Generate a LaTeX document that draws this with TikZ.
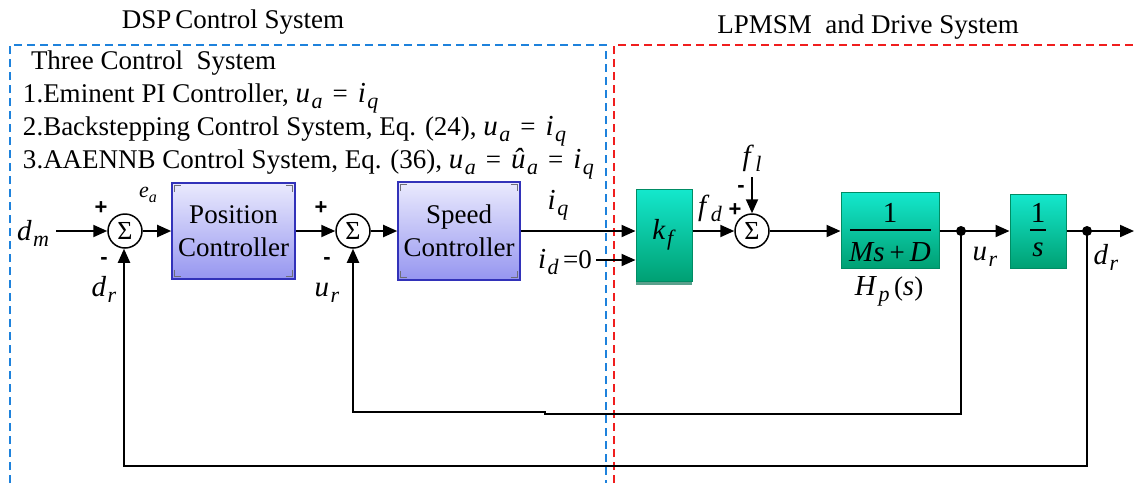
\documentclass[tikz,border=0pt]{standalone}
\usepackage{fontspec}
\setmainfont{Liberation Serif}
\newfontfamily\plusfont{Liberation Sans}
\usetikzlibrary{arrows.meta,calc}
\definecolor{dspblue}{RGB}{30,130,220}
\definecolor{drvred}{RGB}{240,30,30}
\definecolor{lavtop}{RGB}{234,234,253}
\definecolor{lavbot}{RGB}{150,150,240}
\definecolor{lavdraw}{RGB}{50,50,185}
\definecolor{grtop}{RGB}{20,232,205}
\definecolor{grmid}{RGB}{0,200,150}
\definecolor{grbot}{RGB}{0,160,115}
\definecolor{grdraw}{RGB}{0,140,100}
\definecolor{cornergray}{RGB}{110,110,120}
\newcommand\iv[1]{{\fontsize{29}{29}\selectfont\textit{#1}}}
\newcommand\sbs[1]{\kern1.5pt\raisebox{-6pt}{\fontsize{22}{22}\selectfont\textit{#1}}}
\newcommand\eqs{\hspace{10pt}=\hspace{10pt}}
\newcommand\sgn[1]{{\plusfont\bfseries\fontsize{22}{22}\selectfont #1}}
\newcommand\boxcorners[1]{%
  \draw[cornergray,line width=1.3pt] ($(#1.north west)+(3,10)$) -- ++(0,-7) -- ++(7,0);
  \draw[cornergray,line width=1.3pt] ($(#1.north east)+(-10,3)$) -- ++(7,0) -- ++(0,7);
  \draw[cornergray,line width=1.3pt] ($(#1.south west)+(3,-10)$) -- ++(0,7) -- ++(7,0);
  \draw[cornergray,line width=1.3pt] ($(#1.south east)+(-10,-3)$) -- ++(7,0) -- ++(0,-7);
}
\begin{document}
\begin{tikzpicture}[x=1pt,y=-1pt,
  font=\fontsize{27}{31}\selectfont,
  line width=2pt,
  >={Triangle[length=14pt,width=12pt]},
  sumc/.style={circle,draw,line width=1.5pt,minimum size=34pt,inner sep=0pt,fill=white,font=\fontsize{26}{26}\selectfont},
  pbox/.style={rectangle,draw=lavdraw,line width=1.6pt,top color=lavtop,bottom color=lavbot,align=center,inner sep=0pt,font=\fontsize{27}{33}\selectfont},
  gbox/.style={rectangle,draw=grdraw,line width=1pt,top color=grtop,middle color=grmid,bottom color=grbot,inner sep=0pt},
  lbl/.style={inner sep=0pt},
  dspdash/.style={dspblue,line width=1.5pt,dash pattern=on 8pt off 5pt},
  drvdash/.style={drvred,line width=1.5pt,dash pattern=on 8pt off 5pt},
  dotc/.style={circle,fill=black,inner sep=0pt,minimum size=10pt}
]
\useasboundingbox (0,0) rectangle (1134,483);
\fill[white] (0,0) rectangle (1134,483);

% frames
\draw[dspdash] (10,483) -- (10,45) -- (606,45) -- (606,483);
\draw[drvdash] (614,483) -- (614,45) -- (1134,45);

% titles
\node[lbl,anchor=base] (t1) at (233,28) {DSP\kern4pt Control System};
\node[lbl,anchor=base] (t2) at (868,33) {LPMSM\ \ and Drive System};

% list
\node[lbl,anchor=base west] (l0) at (30,69) {Three Control\ \ System};
\node[lbl,anchor=base west] (l1) at (22,102) {1.Eminent PI Controller, \iv{u}\sbs{a}\eqs\iv{i}\sbs{q}};
\node[lbl,anchor=base west] (l2) at (22,135) {2.Backstepping Control System, Eq. (24),\ \iv{u}\sbs{a}\eqs\iv{i}\sbs{q}};
\node[lbl,anchor=base west] (l3) at (22,168) {3.AAENNB Control System, Eq. (36),\ \iv{u}\sbs{a}\eqs\iv{û}\sbs{a}\eqs\iv{i}\sbs{q}};

% blocks
\node[sumc] (s1) at (125,231) {Σ};
\node[pbox,minimum width=123pt,minimum height=96pt] (pc) at (233.5,231) {Position\\Controller};
\boxcorners{pc}
\node[sumc] (s2) at (353,231) {Σ};
\node[pbox,minimum width=122pt,minimum height=98pt] (sc) at (459,231) {Speed\\Controller};
\boxcorners{sc}

\fill[fill={rgb,255:red,90;green,160;blue,140}] (636,280) rectangle (692,285);
\node[gbox,minimum width=56pt,minimum height=92pt] (kf) at (664,235) {\iv{k}\sbs{f}};
\node[sumc] (s3) at (752,231) {Σ};
\node[gbox,minimum width=98pt,minimum height=76pt] (hp) at (890,230) {};
\node[lbl] (hpn) at (890,213) {\fontsize{29}{29}\selectfont 1};
\draw[line width=1.3pt] (850,230) -- (931,230);
\node[lbl] (hpd) at (890,252) {\iv{Ms}\hspace{5pt}+\hspace{5pt}\iv{D}};
\node[gbox,minimum width=56pt,minimum height=74pt] (is) at (1038,231) {};
\node[lbl] (isn) at (1038,213) {\fontsize{29}{29}\selectfont 1};
\draw[line width=1.3pt] (1030,230) -- (1046,230);
\node[lbl] (isd) at (1038,250) {\iv{s}};

% junction dots
\node[dotc] (d1) at (961,231) {};
\node[dotc] (d2) at (1087,231) {};
\coordinate (out) at (1134,231);
\coordinate (dmstart) at (56,231);
\coordinate (idstart) at (596,260);
\coordinate (flstart) at (752,177);

% forward path
\draw[->] (dmstart) -- (s1.west);
\draw[->] (s1.east) -- (pc.west);
\draw[->] (pc.east) -- (s2.west);
\draw[->] (s2.east) -- (sc.west);
\draw[->] (sc.east) -- (sc.east -| kf.west);
\draw[->] (idstart) -- (idstart -| kf.west);
\draw[->] (kf.east |- s3.west) -- (s3.west);
\draw[->] (flstart) -- (s3.north);
\draw[->] (s3.east) -- (s3.east -| hp.west);
\draw (hp.east |- d1) -- (d1.center);
\draw[->] (d1.center) -- (is.west);
\draw (is.east) -- (d2.center);
\draw[->] (d2.center) -- (out);

% feedback
\coordinate (fbA) at (961,414);
\coordinate (fbB) at (545,414);
\coordinate (fbC) at (545,412);
\coordinate (fbD) at (353,412);
\draw[->] (d1.center) -- (fbA) -- (fbB) -- (fbC) -- (fbD) -- (s2.south);
\coordinate (fbE) at (1087,466);
\coordinate (fbF) at (124,466);
\draw[->] (d2.center) -- (fbE) -- (fbF) -- (s1.south -| fbF);

% labels
\node[lbl,anchor=base west] (ldm) at (16,240) {\iv{d}\sbs{m}};
\node[lbl] (p1) at (101,208) {\sgn{+}};
\node[lbl] (m1) at (104,261) {\sgn{-}};
\node[lbl] (lea) at (148,195) {\fontsize{22}{22}\selectfont\textit{e}\raisebox{-0.45ex}{\fontsize{16}{16}\selectfont\textit{a}}};
\node[lbl] (ldr1) at (104,289) {\iv{d}\sbs{r}};
\node[lbl] (p2) at (321,208) {\sgn{+}};
\node[lbl] (m2) at (327,261) {\sgn{-}};
\node[lbl] (lur1) at (327,293) {\iv{u}\sbs{r}};
\node[lbl] (liq) at (558,205) {\iv{i}\sbs{q}};
\node[lbl,anchor=west] (lid) at (537,262) {\iv{i}\sbs{d}\,=0};
\node[lbl] (lfd) at (710,208) {\iv{f}\sbs{d}};
\node[lbl] (p3) at (735,210) {\sgn{+}};
\node[lbl] (lfl) at (752,158) {\iv{f}\sbs{l}};
\node[lbl] (m3) at (741,189) {\sgn{-}};
\node[lbl] (lhp) at (889,291) {\iv{H}\sbs{p}\,(\iv{s})};
\node[lbl] (lur2) at (985,257) {\iv{u}\sbs{r}};
\node[lbl] (ldr2) at (1106,257) {\iv{d}\sbs{r}};
\end{tikzpicture}
\end{document}
